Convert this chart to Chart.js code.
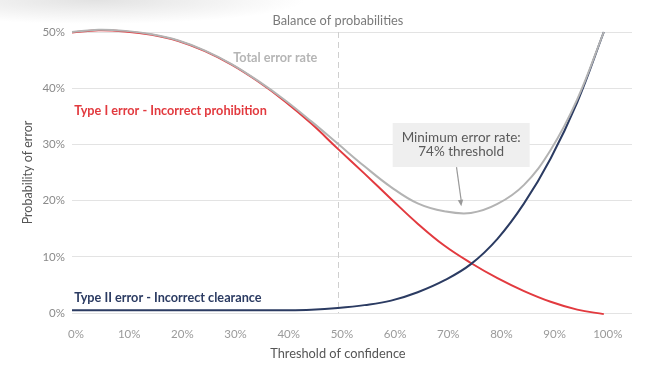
<!DOCTYPE html>
<html>
<head>
<meta charset="utf-8">
<script src="https://cdn.jsdelivr.net/npm/chart.js@4"></script>
<style>
  html, body { margin: 0; padding: 0; }
  body {
    width: 652px; height: 371px; overflow: hidden;
    background: #fff radial-gradient(ellipse 210px 24px at 95px 0px, #e2e2e2, rgba(255,255,255,0));
  }
  canvas { display: block; }
</style>
</head>
<body>
<canvas id="myChart" width="652" height="371"></canvas>
<script>
// Balance of probabilities (percent)
const thresholds = [0, 5, 10, 15, 20, 25, 30, 35, 40, 45, 50, 55, 60, 65, 70, 75, 80, 85, 90, 95, 100];
const typeOneError = [49.9, 50.3, 50.1, 49.5, 48.4, 46.6, 44.2, 41.2, 37.7, 33.7, 29.2, 24.8, 20.3, 15.9, 12.0, 8.9, 6.2, 3.9, 2.0, 0.6, -0.2];
const typeTwoError = [0.5, 0.5, 0.5, 0.5, 0.5, 0.5, 0.5, 0.5, 0.5, 0.6, 0.9, 1.4, 2.2, 3.7, 5.8, 8.7, 13.2, 19.5, 27.5, 37.5, 50.0];
const totalError = [50.0, 50.4, 50.2, 49.6, 48.5, 46.7, 44.3, 41.3, 37.9, 34.1, 30.1, 26.1, 22.4, 19.5, 18.1, 17.8, 19.4, 22.8, 29.0, 38.0, 50.0];
const xTicks = [0, 10, 20, 30, 40, 50, 60, 70, 80, 90, 100];
const yTicks = [0, 10, 20, 30, 40, 50];

const FONT = 'Lato, "Open Sans", sans-serif';
const RED = '#e23a3f';
const NAVY = '#2b3b62';
const GREY = '#b3b3b3';

const points = (ys) => thresholds.map((x, i) => ({ x: x, y: ys[i] }));

// labels, dashed 50% line and the callout
const notes = {
  id: 'notes',
  beforeDatasetsDraw(chart) {
    const { ctx, chartArea, scales: { x } } = chart;
    const px = Math.round(x.getPixelForValue(50)) + 0.5;
    ctx.save();
    ctx.strokeStyle = '#cfcfcf';
    ctx.lineWidth = 1;
    ctx.setLineDash([6, 4]);
    ctx.beginPath();
    ctx.moveTo(px, chartArea.top);
    ctx.lineTo(px, chartArea.bottom);
    ctx.stroke();
    ctx.restore();
  },
  afterDatasetsDraw(chart) {
    const { ctx, scales: { x, y } } = chart;
    ctx.save();
    ctx.textBaseline = 'middle';

    // title and x axis title, centred on the 50% line
    ctx.textAlign = 'center';
    ctx.fillStyle = '#7a7a7a';
    ctx.font = '12.8px ' + FONT;
    ctx.fillText('Balance of probabilities', x.getPixelForValue(50), 21);
    ctx.fillStyle = '#555';
    ctx.fillText('Threshold of confidence', x.getPixelForValue(50), 354);

    // series labels
    ctx.textAlign = 'left';
    ctx.font = 'bold 12.7px ' + FONT;
    ctx.fillStyle = '#b5b5b5';
    ctx.fillText('Total error rate', x.getPixelForValue(30.3), y.getPixelForValue(45.4));
    ctx.fillStyle = RED;
    ctx.fillText('Type I error - Incorrect prohibition', x.getPixelForValue(0.4), y.getPixelForValue(35.9));
    ctx.fillStyle = NAVY;
    ctx.fillText('Type II error - Incorrect clearance', x.getPixelForValue(0.4), y.getPixelForValue(2.6));

    // callout box
    const bx = x.getPixelForValue(60.3), bw = 137;
    const by = y.getPixelForValue(33.8), bh = 44;
    ctx.fillStyle = '#efefef';
    ctx.fillRect(bx, by, bw, bh);
    ctx.fillStyle = '#5a5a5a';
    ctx.textAlign = 'center';
    ctx.font = '13.5px ' + FONT;
    ctx.fillText('Minimum error rate:', bx + bw / 2, by + 15);
    ctx.fillText('74% threshold', bx + bw / 2, by + 29);

    // arrow to the minimum
    const x0 = x.getPixelForValue(72.3), y0 = by + bh;
    const x1 = x.getPixelForValue(73.2), y1 = y.getPixelForValue(19.0);
    ctx.strokeStyle = '#999';
    ctx.fillStyle = '#999';
    ctx.lineWidth = 1.2;
    ctx.beginPath();
    ctx.moveTo(x0, y0);
    ctx.lineTo(x1, y1 - 5);
    ctx.stroke();
    const a = Math.atan2(y1 - y0, x1 - x0);
    ctx.beginPath();
    ctx.moveTo(x1, y1);
    ctx.lineTo(x1 - 7 * Math.cos(a - 0.4), y1 - 7 * Math.sin(a - 0.4));
    ctx.lineTo(x1 - 7 * Math.cos(a + 0.4), y1 - 7 * Math.sin(a + 0.4));
    ctx.closePath();
    ctx.fill();
    ctx.restore();
  }
};

const ctx = document.getElementById('myChart').getContext('2d');
const myChart = new Chart(ctx, {
  type: 'line',
  data: {
    datasets: [
      { label: 'Total error rate', data: points(totalError), borderColor: GREY },
      { label: 'Type II error', data: points(typeTwoError), borderColor: NAVY },
      { label: 'Type I error', data: points(typeOneError), borderColor: RED }
    ]
  },
  options: {
    responsive: false,
    animation: false,
    devicePixelRatio: 1,
    layout: { padding: { top: 32, right: 20, left: 0, bottom: 0 } },
    datasets: {
      line: {
        borderWidth: 2,
        pointRadius: 0,
        fill: false,
        tension: 0.4,
        clip: 6
      }
    },
    plugins: {
      legend: { display: false },
      tooltip: { enabled: false }
    },
    scales: {
      x: {
        type: 'linear',
        min: 0,
        max: 105.3,
        afterBuildTicks: (s) => { s.ticks = xTicks.map(v => ({ value: v })); },
        afterFit: (s) => { s.height = 58; },
        grid: { display: false },
        border: { display: false },
        ticks: {
          color: '#9a9a9a',
          font: { family: FONT, size: 11.5 },
          padding: 6,
          labelOffset: 4,
          maxRotation: 0,
          callback: (v) => v + '%'
        }
      },
      y: {
        min: 0,
        max: 50,
        afterBuildTicks: (s) => { s.ticks = yTicks.map(v => ({ value: v })); },
        afterFit: (s) => { s.width = 72; },
        grid: { color: '#e3e3e3', drawTicks: false },
        border: { display: false },
        ticks: {
          color: '#8a8a8a',
          font: { family: FONT, size: 11.5 },
          padding: 7,
          callback: (v) => v + '%'
        },
        title: {
          display: true,
          text: 'Probability of error',
          color: '#555',
          font: { family: FONT, size: 12.5 },
          padding: { top: 20 }
        }
      }
    }
  },
  plugins: [notes]
});
</script>
</body>
</html>
